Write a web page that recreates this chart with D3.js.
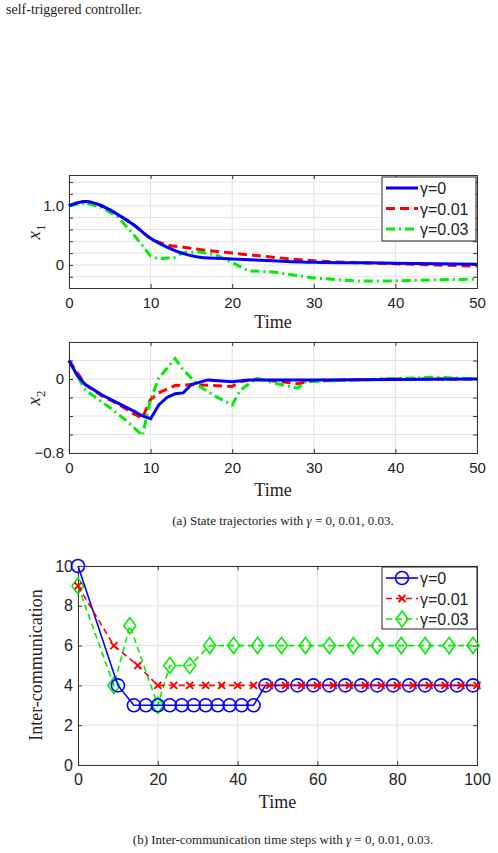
<!DOCTYPE html>
<html>
<head>
<meta charset="utf-8">
<script src="https://cdn.jsdelivr.net/npm/d3@7"></script>
<style>
body { margin: 0; background: #fff; }
text { fill: #222; }
</style>
</head>
<body>
<svg id="fig" width="498" height="853"></svg>
<script>
// state trajectory samples (time, value)
var x1Time = [0, 2, 4, 6, 8, 10, 12, 14, 16, 20, 25, 30, 40, 50];
var x1Gamma0 = [1.0, 1.07, 1.0, 0.85, 0.67, 0.45, 0.30, 0.19, 0.13, 0.10, 0.07, 0.045, 0.03, 0.01];
var x1Gamma1 = [1.0, 1.07, 1.0, 0.85, 0.67, 0.45, 0.34, 0.30, 0.26, 0.20, 0.13, 0.07, 0.02, -0.02];
var x1Time3 = [0, 2, 4, 6, 8, 10, 11, 13, 14, 16, 18, 20, 22, 25, 30, 35, 40, 45, 50];
var x1Gamma3 = [1.0, 1.05, 0.97, 0.81, 0.5, 0.15, 0.1, 0.13, 0.21, 0.22, 0.17, 0.04, -0.1, -0.12, -0.22, -0.27, -0.27, -0.25, -0.24];

var x2Time0 = [0, 1, 2, 4, 6, 8, 9, 10, 11, 12, 13, 14, 15, 17, 20, 22, 30, 50];
var x2Gamma0 = [0.2, 0.04, -0.06, -0.17, -0.26, -0.35, -0.4, -0.43, -0.28, -0.2, -0.16, -0.15, -0.06, -0.01, -0.03, -0.01, -0.01, 0];
var x2Time1 = [0, 2, 4, 6, 8, 9, 10, 11, 13, 15, 20, 21, 23, 28, 30, 40, 50];
var x2Gamma1 = [0.2, -0.06, -0.18, -0.27, -0.38, -0.42, -0.22, -0.15, -0.07, -0.06, -0.08, -0.03, 0, -0.05, -0.02, 0, 0];
var x2Time3 = [0, 2, 5, 7, 9, 10, 11, 13, 14, 16, 18, 20, 21, 23, 25, 28, 29, 35, 45, 50];
var x2Gamma3 = [0.2, -0.12, -0.31, -0.45, -0.61, -0.22, 0.01, 0.22, 0.1, -0.08, -0.19, -0.28, -0.12, 0.01, -0.04, -0.1, -0.03, -0.01, 0.02, 0];

// inter-communication steps
var icTime0 = [0, 10, 14, 17, 20, 23, 26, 29, 32, 35, 38, 41, 44, 47, 51, 55, 59, 63, 67, 71, 75, 79, 83, 87, 91, 95, 99];
var icSteps0 = [10, 4, 3, 3, 3, 3, 3, 3, 3, 3, 3, 3, 3, 4, 4, 4, 4, 4, 4, 4, 4, 4, 4, 4, 4, 4, 4];
var icTime1 = [0, 9, 15, 20, 24, 28, 32, 36, 40, 44, 48, 52, 56, 60, 64, 68, 72, 76, 80, 84, 88, 92, 96, 100];
var icSteps1 = [9, 6, 5, 4, 4, 4, 4, 4, 4, 4, 4, 4, 4, 4, 4, 4, 4, 4, 4, 4, 4, 4, 4, 4];
var icTime3 = [0, 9, 13, 20, 23, 28, 33, 39, 45, 51, 57, 63, 69, 75, 81, 87, 93, 99];
var icSteps3 = [9, 4, 7, 3, 5, 5, 6, 6, 6, 6, 6, 6, 6, 6, 6, 6, 6, 6];

var legendLabels = ["\u03b3=0", "\u03b3=0.01", "\u03b3=0.03"];
var colors = ["#0000ff", "#ff0000", "#00ee00"];

var svg = d3.select("#fig");
var serif = "'Liberation Serif', 'DejaVu Serif', serif";
var sans = "'Liberation Sans', Arial, sans-serif";

svg.append("text").attr("x", 6).attr("y", 14).style("font-family", serif)
    .style("font-size", "14px").text("self-triggered controller.");

function makeAxes(box, xDom, yDom, xTicks, yTicks, yLabels, xLabelY) {
    var x = d3.scaleLinear().domain(xDom).range([box.l, box.r]);
    var y = d3.scaleLinear().domain(yDom).range([box.b, box.t]);
    var g = svg.append("g");
    g.selectAll(".gx").data(xTicks).enter().append("line")
        .attr("x1", x).attr("x2", x).attr("y1", box.t).attr("y2", box.b)
        .attr("stroke", "#e3e3e3");
    g.selectAll(".gy").data(yTicks).enter().append("line")
        .attr("y1", y).attr("y2", y).attr("x1", box.l).attr("x2", box.r)
        .attr("stroke", "#e3e3e3");
    var ax = d3.axisBottom(x).tickValues(xTicks).tickSize(-4).tickPadding(9);
    g.append("g").attr("transform", "translate(0," + box.b + ")").call(ax);
    g.append("g").attr("transform", "translate(0," + box.t + ")")
        .call(d3.axisTop(x).tickValues(xTicks).tickSize(-4).tickFormat(""));
    var ay = d3.axisLeft(y).tickValues(yTicks).tickSize(-4).tickPadding(5)
        .tickFormat(function (d) { return yLabels[yTicks.indexOf(d)]; });
    g.append("g").attr("transform", "translate(" + box.l + ",0)").call(ay);
    g.append("g").attr("transform", "translate(" + box.r + ",0)")
        .call(d3.axisRight(y).tickValues(yTicks).tickSize(-4).tickFormat(""));
    g.selectAll(".domain").attr("stroke", "#333");
    g.selectAll(".tick line").attr("stroke", "#333");
    g.selectAll(".tick text").style("font-family", sans).style("font-size", "15px").attr("fill", "#222");
    g.append("text").attr("x", (box.l + box.r) / 2).attr("y", xLabelY).attr("text-anchor", "middle")
        .style("font-family", serif).style("font-size", "18px").text("Time");
    return {x: x, y: y, g: g};
}

function drawLine(ax, xs, ys, color, dash, width, curve) {
    var pts = xs.map(function (t, i) { return [t, ys[i]]; });
    ax.g.append("path").datum(pts)
        .attr("d", d3.line().curve(curve || d3.curveLinear)
            .x(function (d) { return ax.x(d[0]); }).y(function (d) { return ax.y(d[1]); }))
        .attr("fill", "none").attr("stroke", color).attr("stroke-width", width)
        .attr("stroke-dasharray", dash);
}

function legend(box, items) {
    var g = svg.append("g").attr("transform", "translate(" + box.x + "," + box.y + ")");
    g.append("rect").attr("width", box.w).attr("height", box.h).attr("fill", "#fff").attr("stroke", "#222");
    items.forEach(function (it, i) {
        var yy = 11 + i * 20.5;
        g.append("line").attr("x1", 4).attr("x2", 36).attr("y1", yy).attr("y2", yy)
            .attr("stroke", it.color).attr("stroke-width", it.width).attr("stroke-dasharray", it.dash);
        if (it.marker) it.marker(g, 20, yy);
        g.append("text").attr("x", 38).attr("y", yy + 6).style("font-family", sans)
            .style("font-size", "16px").text(it.label);
    });
}

// panel (a) top
var yT1 = [-0.2, 0, 0.2, 0.4, 0.6, 0.8, 1.0, 1.2, 1.4];
var a1 = makeAxes({l: 69, r: 477, t: 175, b: 288}, [0, 50], [-0.39, 1.52],
    [0, 10, 20, 30, 40, 50], yT1, ["", "0", "", "", "", "", "1.0", "", ""], 328);
drawLine(a1, x1Time, x1Gamma1, colors[1], "9,5", 3, d3.curveMonotoneX);
drawLine(a1, x1Time3, x1Gamma3, colors[2], "9,4,2,4", 3);
drawLine(a1, x1Time, x1Gamma0, colors[0], null, 3, d3.curveMonotoneX);
var yl1 = svg.append("text").attr("transform", "translate(40,232) rotate(-90)").attr("text-anchor", "middle")
    .style("font-family", serif).style("font-size", "19px").style("font-style", "italic");
yl1.append("tspan").text("x");
yl1.append("tspan").attr("dy", 5).style("font-size", "13px").style("font-style", "normal").text("1");
legend({x: 382, y: 177, w: 94, h: 64}, [
    {label: legendLabels[0], color: colors[0], dash: null, width: 3},
    {label: legendLabels[1], color: colors[1], dash: "9,5", width: 3},
    {label: legendLabels[2], color: colors[2], dash: "9,4,2,4", width: 3}
]);

// panel (a) bottom
var yT2 = [-0.8, -0.6, -0.4, -0.2, 0, 0.2, 0.4];
var a2 = makeAxes({l: 69, r: 477, t: 342, b: 453}, [0, 50], [-0.8, 0.4],
    [0, 10, 20, 30, 40, 50], yT2, ["\u22120.8", "", "", "", "0", "", ""], 496);
drawLine(a2, x2Time1, x2Gamma1, colors[1], "9,5", 3);
drawLine(a2, x2Time3, x2Gamma3, colors[2], "9,4,2,4", 3);
drawLine(a2, x2Time0, x2Gamma0, colors[0], null, 3);
var yl2 = svg.append("text").attr("transform", "translate(40,398) rotate(-90)").attr("text-anchor", "middle")
    .style("font-family", serif).style("font-size", "19px").style("font-style", "italic");
yl2.append("tspan").text("x");
yl2.append("tspan").attr("dy", 5).style("font-size", "13px").style("font-style", "normal").text("2");

svg.append("text").attr("x", 283).attr("y", 525).attr("text-anchor", "middle")
    .style("font-family", serif).style("font-size", "13px")
    .html("(a) State trajectories with <tspan font-style='italic'>\u03b3</tspan> = 0, 0.01, 0.03.");

// panel (b)
var b = makeAxes({l: 78, r: 477, t: 566, b: 765}, [0, 100], [0, 10],
    [0, 20, 40, 60, 80, 100], [0, 2, 4, 6, 8, 10], ["0", "2", "4", "6", "8", "10"], 808);
b.g.selectAll(".tick text").style("font-size", "16px");

function circleM(g, cx, cy) {
    g.append("circle").attr("cx", cx).attr("cy", cy).attr("r", 6.5)
        .attr("fill", "none").attr("stroke", colors[0]).attr("stroke-width", 1.6);
}
function crossM(g, cx, cy) {
    g.append("path").attr("d", "M" + (cx - 3.5) + "," + (cy - 3.5) + "l7,7M" + (cx + 3.5) + "," + (cy - 3.5) + "l-7,7")
        .attr("stroke", colors[1]).attr("stroke-width", 2);
}
function diamondM(g, cx, cy) {
    g.append("path").attr("d", "M" + cx + "," + (cy - 8) + "l6,8l-6,8l-6,-8z")
        .attr("fill", "none").attr("stroke", colors[2]).attr("stroke-width", 1.6);
}

drawLine(b, icTime3, icSteps3, colors[2], "6,4", 1.6);
icTime3.forEach(function (t, i) { diamondM(b.g, b.x(t), b.y(icSteps3[i])); });
drawLine(b, icTime0, icSteps0, colors[0], null, 1.6);
icTime0.forEach(function (t, i) { circleM(b.g, b.x(t), b.y(icSteps0[i])); });
drawLine(b, icTime1, icSteps1, colors[1], "6,4", 1.6);
icTime1.forEach(function (t, i) { crossM(b.g, b.x(t), b.y(icSteps1[i])); });

svg.append("text").attr("transform", "translate(42,665) rotate(-90)").attr("text-anchor", "middle")
    .style("font-family", serif).style("font-size", "18px").text("Inter-communication");
legend({x: 382, y: 567, w: 95, h: 62}, [
    {label: legendLabels[0], color: colors[0], dash: null, width: 1.6, marker: circleM},
    {label: legendLabels[1], color: colors[1], dash: "6,4", width: 1.6, marker: crossM},
    {label: legendLabels[2], color: colors[2], dash: "6,4", width: 1.6, marker: diamondM}
]);

svg.append("text").attr("x", 283).attr("y", 844).attr("text-anchor", "middle")
    .style("font-family", serif).style("font-size", "13px")
    .html("(b) Inter-communication time steps with <tspan font-style='italic'>\u03b3</tspan> = 0, 0.01, 0.03.");
</script>
</body>
</html>
